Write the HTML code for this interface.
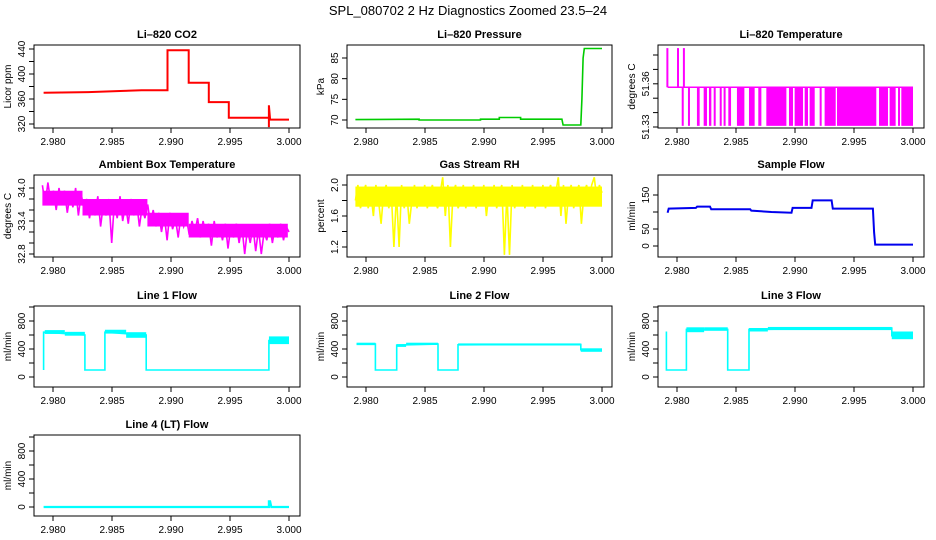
<!DOCTYPE html>
<html><head><meta charset="utf-8"><style>
html,body{margin:0;padding:0;background:#fff;}
svg{display:block;font-family:"Liberation Sans",Arial,sans-serif;}
</style></head><body>
<svg id="chart" width="936" height="540" viewBox="0 0 936 540" xmlns="http://www.w3.org/2000/svg">
<rect width="936" height="540" fill="#fff"/>
<text x="468" y="15" text-anchor="middle" font-size="13">SPL_080702  2 Hz Diagnostics Zoomed 23.5–24</text>
</svg>
<script>
// ---- data ----
const xTicks = [2.980, 2.985, 2.990, 2.995, 3.000];
const xTickLabels = ["2.980", "2.985", "2.990", "2.995", "3.000"];

const co2X = [2.9792,2.9830,2.9860,2.9875,2.9897,2.9897,2.9915,2.9915,2.9932,2.9932,2.9949,2.9949,2.9983,2.9983,2.9983,2.9984,3.0000];
const co2Y = [370,371,373,374,374,438,438,386,386,355,355,330,330,315,350,327,327];

const presX = [2.9791,2.9845,2.9845,2.9897,2.9897,2.9913,2.9913,2.9931,2.9931,2.9966,2.9967,2.9982,2.9983,2.9984,2.9985,3.0000];
const presY = [70.1,70.2,70.0,70.0,70.2,70.2,70.6,70.6,70.2,70.2,68.8,68.8,75,85,87.3,87.3];

const tempHigh = 51.3437, tempMid = 51.3369, tempLow = 51.3302;
const tempHighStart = [2.9791,2.9800,2.9805];
const tempHighEnd = [2.9792,2.9801,2.9806];
const tempLowStart = [2.98040,2.98093,2.98169,2.98226,2.98271,2.98311,2.98362,2.98395,2.98435,2.98508,2.98610,2.98689,2.98757,2.98949,2.98997,2.99082,2.99124,2.99209,2.99251,2.99356,2.99712,2.99802,2.99873,2.99901];
const tempLowEnd = [2.98051,2.98099,2.98192,2.98254,2.98291,2.98328,2.98367,2.98401,2.98458,2.98571,2.98658,2.98715,2.98927,2.98983,2.99068,2.99110,2.99167,2.99223,2.99345,2.99689,2.99788,2.99853,2.99887,3.00000];

const ambVals = [34.05,33.7,34.1,33.75,33.95,33.6,34.0,33.7,33.95,33.55,33.9,33.65,34.0,33.5,33.9,
 33.6,33.8,33.45,33.75,33.5,33.85,33.3,33.7,33.5,33.8,33.0,33.75,33.45,33.85,33.4,33.7,33.35,33.8,33.5,33.75,33.3,33.65,33.45,33.7,33.35,
 33.6,33.3,33.55,33.2,33.5,33.05,33.55,33.25,33.45,33.1,33.5,33.3,33.45,33.15,33.4,
 33.2,33.45,33.1,33.4,33.15,33.35,32.95,33.4,33.1,33.3,33.05,33.35,32.9,33.3,33.1,33.35,33.0,33.3,32.8,33.25,33.0,33.3,32.85,33.25,32.8,33.2,33.05,33.35,33.0,33.3,33.1,33.35,33.05,33.3,33.2];
const ambBandX0 = [2.9791,2.9825,2.9880,2.9915];
const ambBandX1 = [2.9825,2.9880,2.9915,2.9999];
const ambBandLo = [33.68,33.5,33.3,33.1];
const ambBandHi = [33.95,33.8,33.55,33.35];

const rhVals = [1.8,2.0,1.7,1.9,2.0,1.7,1.9,1.6,2.0,1.8,1.5,1.9,2.0,1.7,1.9,1.2,1.9,1.2,2.0,1.7,1.9,1.5,1.8,2.0,1.7,1.9,1.8,2.0,1.7,1.9,2.0,1.8,1.7,1.9,2.1,1.6,2.0,1.2,1.9,2.0,1.7,1.8,2.0,1.7,1.9,1.8,2.0,1.7,1.9,1.8,2.0,1.6,1.9,1.8,2.0,1.7,1.9,2.0,1.1,1.9,1.1,2.0,1.7,1.9,1.8,2.0,1.7,1.9,1.8,2.0,1.7,1.9,1.8,2.0,1.7,1.9,2.0,1.8,1.9,2.1,1.6,2.0,1.5,1.9,2.0,1.7,1.9,2.0,1.5,1.9,2.0,1.8,2.0,2.1,1.8,2.0,1.9];

const sfX = [2.9792,2.9793,2.9816,2.9817,2.9828,2.9829,2.9862,2.9863,2.9880,2.9897,2.9898,2.9914,2.9915,2.9931,2.9932,2.9966,2.9967,2.9968,3.0000];
const sfY = [98,110,112,116,116,108,108,104,100,98,112,112,134,134,110,110,40,4,4];

const l1X = [2.9792,2.9792,2.9793,2.9827,2.9827,2.9844,2.9844,2.9879,2.9879,2.9983,2.9983,3.0000];
const l1Y = [100,640,640,600,100,100,640,600,100,100,520,520];
const l1BandX0 = [2.9793,2.9810,2.9844,2.9862,2.9983];
const l1BandX1 = [2.9810,2.9827,2.9862,2.9879,3.0000];
const l1BandLo = [615,590,620,560,470];
const l1BandHi = [670,645,675,640,580];

const l2X = [2.9792,2.9808,2.9808,2.9826,2.9826,2.9861,2.9861,2.9878,2.9878,2.9982,2.9982,3.000];
const l2Y = [470,470,100,100,455,470,100,100,460,465,390,390];
const l2BandX0 = [2.9792,2.9826,2.9834,2.9878,2.9982];
const l2BandX1 = [2.9808,2.9834,2.9861,2.9982,3.000];
const l2BandLo = [455,430,460,450,360];
const l2BandHi = [490,470,490,480,410];

const l3X = [2.9791,2.9791,2.9808,2.9808,2.9843,2.9843,2.9861,2.9861,2.9982,2.9982,3.000];
const l3Y = [650,100,100,680,680,100,100,680,700,590,590];
const l3BandX0 = [2.9808,2.9823,2.9861,2.9877,2.9982];
const l3BandX1 = [2.9823,2.9843,2.9877,2.9982,3.000];
const l3BandLo = [640,660,650,670,540];
const l3BandHi = [710,710,700,715,650];

const l4X = [2.9792,2.9983,2.9983,2.9984,2.9985,3.000];
const l4Y = [0,0,80,80,0,0];

const co2Ticks=[320,340,360,380,400,420,440], co2Labels=["320","","360","","400","","440"];
const presTicks=[70,75,80,85], presLabels=["70","75","80","85"];
const tempTicks=[51.33,51.3325,51.335,51.3375,51.34,51.3425], tempLabels=["51.33","","","51.36","",""];
const ambTicks=[32.8,33.0,33.2,33.4,33.6,33.8,34.0], ambLabels=["32.8","","","33.4","","","34.0"];
const rhTicks=[1.2,1.4,1.6,1.8,2.0], rhLabels=["1.2","","1.6","","2.0"];
const sfTicks=[0,50,100,150], sfLabels=["0","50","","150"];
const flowTicks=[0,200,400,600,800,1000], flowLabels=["0","","400","","800",""];

// ---- drawing ----
const NS="http://www.w3.org/2000/svg";
const svg=document.getElementById('chart');
function mk(tag,attrs,parent){const e=document.createElementNS(NS,tag);for(const k in attrs)e.setAttribute(k,attrs[k]);(parent||svg).appendChild(e);return e;}

const colL=[34,347,658], colR=[300,612,924];
const rowT=[45,175,306,435], rowB=[128,257,387,516];

function panel(o){
  const g=mk('g',{});
  
  
  const L=colL[o.c],R=colR[o.c],T=rowT[o.r],B=rowB[o.r];
  const xs=v=>L+19+(v-2.98)/0.02*236;
  const ys=v=>o.y0p+(v-o.y0)/(o.y1-o.y0)*(o.y1p-o.y0p);
  const t=mk('text',{x:(L+R)/2,y:T-7,'text-anchor':'middle','font-size':11,'font-weight':'bold'},g);
  t.textContent=o.title;
  
  
  const yl=mk('text',{x:0,y:0,'text-anchor':'middle','font-size':10,transform:`translate(${L-23},${(T+B)/2}) rotate(-90)`},g);
  yl.textContent=o.ylabel;
  
  
  const dg=mk('g',{},g);
  
  
  o.draw(dg,xs,ys);
  const bx=mk('rect',{x:L,y:T,width:R-L,height:B-T,fill:'none',stroke:'#000','stroke-width':1},g);
  
  
  xTicks.forEach((v,i)=>{
    const x=xs(v);
    mk('line',{x1:x,y1:B,x2:x,y2:B+5,stroke:'#000'},g);
    const tl=mk('text',{x:x,y:B+17,'text-anchor':'middle','font-size':10},g);
    tl.textContent=xTickLabels[i];
    
    
  });
  o.yt.forEach((v,i)=>{
    const y=ys(v);
    mk('line',{x1:L-5,y1:y,x2:L,y2:y,stroke:'#000'},g);
    if(o.yl[i]){
      const tl=mk('text',{x:0,y:0,'text-anchor':'middle','font-size':10,transform:`translate(${L-9},${y}) rotate(-90)`},g);
      tl.textContent=o.yl[i];
      
      
    }
  });
}
function poly(g,X,Y,xs,ys,col,w){
  const pts=X.map((x,i)=>xs(x).toFixed(1)+','+ys(Y[i]).toFixed(1)).join(' ');
  const p=mk('polyline',{points:pts,fill:'none',stroke:col,'stroke-width':w,'stroke-linejoin':'miter'},g);
  
  
}
function even(vals,x0,x1){return vals.map((v,i)=>x0+(x1-x0)*i/(vals.length-1));}
function bands(g,X0,X1,Lo,Hi,xs,ys,col){
  X0.forEach((x,i)=>{
    const r=mk('rect',{x:xs(x),y:ys(Hi[i]),width:Math.max(1,xs(X1[i])-xs(x)),height:ys(Lo[i])-ys(Hi[i]),fill:col},g);
    
    
  });
}

panel({name:'co2-panel',title:'Li–820 CO2',ylabel:'Licor ppm',c:0,r:0,y0:320,y0p:124,y1:440,y1p:49,yt:co2Ticks,yl:co2Labels,
 draw:(g,xs,ys)=>poly(g,co2X,co2Y,xs,ys,'#ff0000',2)});
panel({name:'pressure-panel',title:'Li–820 Pressure',ylabel:'kPa',c:1,r:0,y0:70,y0p:120,y1:85,y1p:58,yt:presTicks,yl:presLabels,
 draw:(g,xs,ys)=>poly(g,presX,presY,xs,ys,'#00cc00',1.6)});
panel({name:'temperature-panel',title:'Li–820 Temperature',ylabel:'degrees C',c:2,r:0,y0:51.33,y0p:127,y1:51.3425,y1p:55,yt:tempTicks,yl:tempLabels,
 draw:(g,xs,ys)=>{
   poly(g,[2.9792,3.0],[tempMid,tempMid],xs,ys,'#ff00ff',1.5);
   tempHighStart.forEach((x,i)=>{const r=mk('rect',{x:xs(x),y:ys(tempHigh),width:Math.max(2,xs(tempHighEnd[i])-xs(x)),height:ys(tempMid)-ys(tempHigh),fill:'#ff00ff'},g);
     
     });
   tempLowStart.forEach((x,i)=>{const r=mk('rect',{x:xs(x),y:ys(tempMid),width:Math.max(2,xs(tempLowEnd[i])-xs(x)),height:ys(tempLow)-ys(tempMid),fill:'#ff00ff'},g);
     
     });
 }});
panel({name:'ambient-temp-panel',title:'Ambient Box Temperature',ylabel:'degrees C',c:0,r:1,y0:32.8,y0p:254,y1:34.0,y1p:188,yt:ambTicks,yl:ambLabels,
 draw:(g,xs,ys)=>{bands(g,ambBandX0,ambBandX1,ambBandLo,ambBandHi,xs,ys,'#ff00ff');poly(g,even(ambVals,2.9791,3.0),ambVals,xs,ys,'#ff00ff',1.6);}});
panel({name:'rh-panel',title:'Gas Stream RH',ylabel:'percent',c:1,r:1,y0:1.2,y0p:247,y1:2.0,y1p:185,yt:rhTicks,yl:rhLabels,
 draw:(g,xs,ys)=>{bands(g,[2.9791],[3.0],[1.72],[1.98],xs,ys,'#ffff00');poly(g,even(rhVals,2.9791,3.0),rhVals,xs,ys,'#ffff00',1.6);}});
panel({name:'sample-flow-panel',title:'Sample Flow',ylabel:'ml/min',c:2,r:1,y0:0,y0p:246,y1:150,y1p:195,yt:sfTicks,yl:sfLabels,
 draw:(g,xs,ys)=>poly(g,sfX,sfY,xs,ys,'#0000ee',2)});
panel({name:'line1-flow-panel',title:'Line 1 Flow',ylabel:'ml/min',c:0,r:2,y0:0,y0p:377,y1:800,y1p:321,yt:flowTicks,yl:flowLabels,
 draw:(g,xs,ys)=>{bands(g,l1BandX0,l1BandX1,l1BandLo,l1BandHi,xs,ys,'#00ffff');poly(g,l1X,l1Y,xs,ys,'#00ffff',1.6);}});
panel({name:'line2-flow-panel',title:'Line 2 Flow',ylabel:'ml/min',c:1,r:2,y0:0,y0p:377,y1:800,y1p:321,yt:flowTicks,yl:flowLabels,
 draw:(g,xs,ys)=>{bands(g,l2BandX0,l2BandX1,l2BandLo,l2BandHi,xs,ys,'#00ffff');poly(g,l2X,l2Y,xs,ys,'#00ffff',1.6);}});
panel({name:'line3-flow-panel',title:'Line 3 Flow',ylabel:'ml/min',c:2,r:2,y0:0,y0p:377,y1:800,y1p:321,yt:flowTicks,yl:flowLabels,
 draw:(g,xs,ys)=>{bands(g,l3BandX0,l3BandX1,l3BandLo,l3BandHi,xs,ys,'#00ffff');poly(g,l3X,l3Y,xs,ys,'#00ffff',1.6);}});
panel({name:'line4-flow-panel',title:'Line 4 (LT) Flow',ylabel:'ml/min',c:0,r:3,y0:0,y0p:507,y1:800,y1p:451,yt:flowTicks,yl:flowLabels,
 draw:(g,xs,ys)=>poly(g,l4X,l4Y,xs,ys,'#00ffff',2.2)});
</script>
</body></html>
